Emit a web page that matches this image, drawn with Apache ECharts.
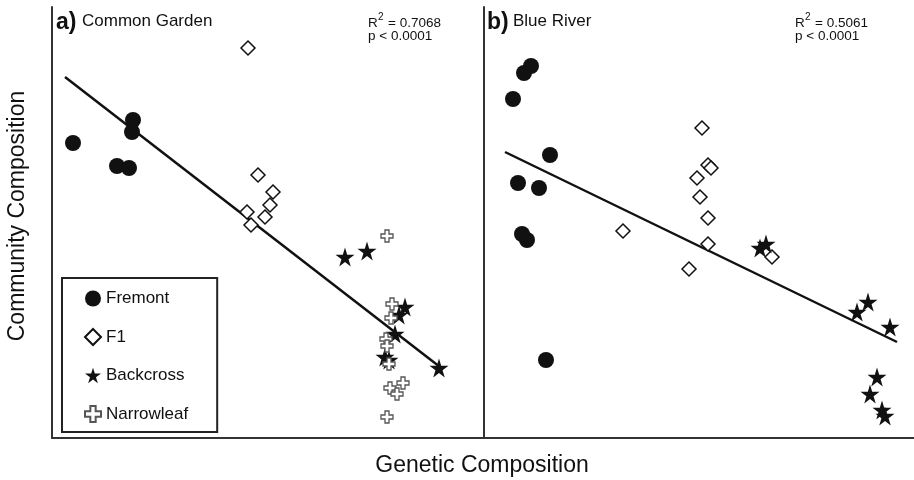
<!DOCTYPE html>
<html>
<head>
    <meta charset="UTF-8">
    <title>Community vs Genetic Composition</title>
    <script src="https://cdn.jsdelivr.net/npm/echarts@6/dist/echarts.min.js"></script>
    <style>
        body { margin: 0; background: #fff; }
        #main { width: 914px; height: 480px; }
    </style>
</head>
<body>
    <div id="main"></div>
    <script>
        // values (unitless composition scores)
        // panel a) Common Garden
        var fremontA = [[21,295],[81,318],[80,306],[65,272],[77,270]];
        var f1A = [[196,390],[206,263],[221,246],[218,233],[213,221],[195,226],[199,213]];
        var backcrossA = [[293,181],[315,187],[353,131],[347,123],[343,104],[333,81],[337,78],[387,70]];
        var narrowleafA = [[335,202],[340,134],[339,120],[334,99],[335,92],[337,74],[338,50],[345,44],[351,55],[335,21]];
        var fitA = [[13,361],[388,71]];

        // panel b) Blue River
        var fremontB = [[47,372],[40,365],[29,339],[66,283],[34,255],[55,250],[38,204],[43,198],[62,78]];
        var f1B = [[218,310],[224,273],[227,270],[213,260],[216,241],[224,220],[139,207],[224,194],[205,169],[288,181]];
        var backcrossB = [[276,190],[282,194],[373,126],[384,136],[406,111],[393,61],[386,44],[398,28],[401,22]];
        var fitB = [[21,286],[413,96]];

        var groupNames = ['Fremont', 'F1', 'Backcross', 'Narrowleaf'];
        var statsA = ['0.7068', 'p < 0.0001'];
        var statsB = ['0.5061', 'p < 0.0001'];

        var font = '"Liberation Sans", Arial, Helvetica, sans-serif';
        var ink = '#111';
        var starPath = 'path://M50,2 L61,37 L98,37 L68,59 L79,95 L50,73 L21,95 L32,59 L2,37 L39,37 Z';
        var plusPath = 'path://M4,0 H8 V4 H12 V8 H8 V12 H4 V8 H0 V4 H4 Z';

        var styles = {
            'Fremont':    { symbol: 'circle', symbolSize: 16, itemStyle: { color: ink, opacity: 1 } },
            'F1':         { symbol: 'diamond', symbolSize: 14, itemStyle: { color: '#fff', borderColor: ink, borderWidth: 1.5, opacity: 1 } },
            'Backcross':  { symbol: starPath, symbolSize: 19, itemStyle: { color: ink, opacity: 1 } },
            'Narrowleaf': { symbol: plusPath, symbolSize: 12, itemStyle: { color: '#fff', borderColor: '#555', borderWidth: 1.3, opacity: 1 } }
        };

        function scatter(name, data, idx) {
            var s = styles[name];
            return {
                type: 'scatter', name: name, data: data,
                xAxisIndex: idx, yAxisIndex: idx,
                symbol: s.symbol, symbolSize: s.symbolSize,
                itemStyle: s.itemStyle, z: 3,
                emphasis: { disabled: true }
            };
        }
        function fitLine(data, idx) {
            return {
                type: 'line', name: 'fit' + idx, data: data,
                xAxisIndex: idx, yAxisIndex: idx,
                symbol: 'none', silent: true, z: 2,
                lineStyle: { color: ink, width: 2.5 }
            };
        }
        function xAx(idx, max) {
            return {
                type: 'value', gridIndex: idx, min: 0, max: max,
                axisLine: { show: true, onZero: false, lineStyle: { color: '#333', width: 2 } },
                axisTick: { show: false }, axisLabel: { show: false }, splitLine: { show: false }
            };
        }
        function yAx(idx) {
            return {
                type: 'value', gridIndex: idx, min: 0, max: 431,
                axisLine: { show: true, onZero: false, lineStyle: { color: '#333', width: 2 } },
                axisTick: { show: false }, axisLabel: { show: false }, splitLine: { show: false }
            };
        }
        function txt(x, y, str, size, extra) {
            var st = { text: str, font: (extra && extra.bold ? 'bold ' : '') + size + 'px ' + font,
                fill: ink, align: (extra && extra.align) || 'left', verticalAlign: 'middle' };
            var el = { type: 'text', x: x, y: y, style: st, silent: true };
            if (extra && extra.rotation) el.rotation = extra.rotation;
            return el;
        }
        function stats(x, vals) {
            return [
                txt(x, 23, 'R', 13.5),
                txt(x + 10, 17, '2', 10),
                txt(x + 20, 23, '= ' + vals[0], 13.5),
                txt(x, 36, vals[1], 13.5)
            ];
        }

        var chart = echarts.init(document.getElementById('main'));
        chart.setOption({
            animation: false,
            grid: [
                { left: 52, top: 7, width: 432, height: 431 },
                { left: 484, top: 7, width: 430, height: 431 }
            ],
            xAxis: [xAx(0, 432), xAx(1, 430)],
            yAxis: [yAx(0), yAx(1)],
            legend: {
                data: groupNames,
                orient: 'vertical',
                left: 62, top: 278,
                padding: [12, 29, 9, 22],
                itemWidth: 16, itemHeight: 16,
                itemGap: 21, itemTextGap: 12,
                selectedMode: false,
                borderColor: '#222', borderWidth: 2,
                backgroundColor: '#fff',
                textStyle: { color: ink, fontSize: 17, lineHeight: 16, fontFamily: font }
            },
            series: [
                fitLine(fitA, 0),
                scatter('Fremont', fremontA, 0),
                scatter('F1', f1A, 0),
                scatter('Backcross', backcrossA, 0),
                scatter('Narrowleaf', narrowleafA, 0),
                fitLine(fitB, 1),
                scatter('Fremont', fremontB, 1),
                scatter('F1', f1B, 1),
                scatter('Backcross', backcrossB, 1)
            ],
            graphic: [
                txt(56, 23, 'a)', 23, { bold: true }),
                txt(82, 21, 'Common Garden', 17),
                txt(487, 23, 'b)', 23, { bold: true }),
                txt(513, 21, 'Blue River', 17),
                txt(482, 466, 'Genetic Composition', 23, { align: 'center' }),
                txt(18, 216, 'Community Composition', 23, { align: 'center', rotation: Math.PI / 2 })
            ].concat(stats(368, statsA), stats(795, statsB))
        });
    </script>
</body>
</html>
